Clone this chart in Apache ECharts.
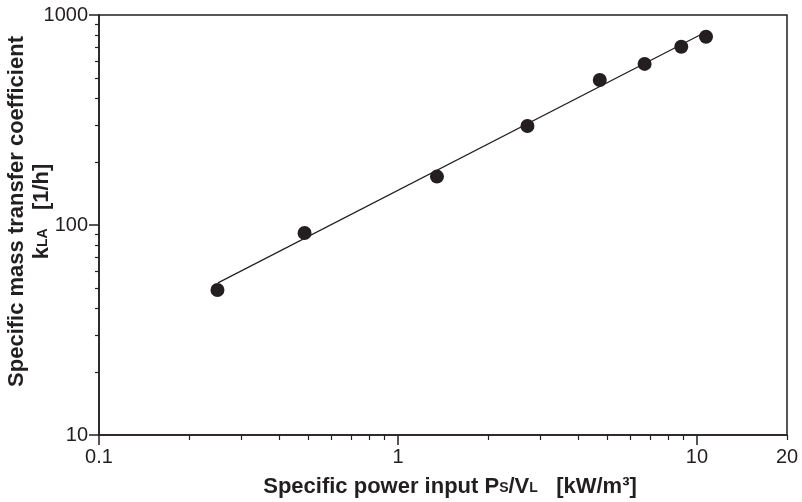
<!DOCTYPE html>
<html><head><meta charset="utf-8">
<script src="https://cdn.jsdelivr.net/npm/echarts@6/dist/echarts.min.js"></script>
<style>html,body{margin:0;padding:0;background:#fff}#c{width:802px;height:502px}</style>
</head><body><div id="c"></div>
<script>
const powerInput = [0.249, 0.487, 1.35, 2.71, 4.73, 6.68, 8.86, 10.72];
const kLa = [49, 91.6, 170, 296, 490, 585, 706, 788];
const fitX = [0.25, 10.7];
const fitY = [53, 830];
const xMajorTicks = [0.1, 1, 10];
const xMinorTicks = [0.2, 0.3, 0.4, 0.5, 0.6, 0.7, 0.8, 0.9, 2, 3, 4, 5, 6, 7, 8, 9, 20];
const xTickLabels = [0.1, 1, 10, 20];
const yMajorTicks = [10, 100, 1000];
const yMinorTicks = [20, 30, 40, 50, 60, 70, 80, 90, 200, 300, 400, 500, 600, 700, 800, 900];
const yTickLabels = [10, 100, 1000];

const INK = '#231f20';
const FONT = 'Liberation Sans, Arial, sans-serif';
const chart = echarts.init(document.getElementById('c'), null, {renderer: 'canvas'});

const labelStyle = {color: INK, fontFamily: FONT, fontSize: 20};
const titleRich = {
  b: {fontFamily: FONT, fontWeight: 'bold', fontSize: 22, color: INK, lineHeight: 25},
  s: {fontFamily: FONT, fontWeight: 'bold', fontSize: 14, color: INK, verticalAlign: 'bottom', lineHeight: 20, padding: [0, 0, 4, 0]}
};
function fmt(v) { return String(Math.round(v * 10) / 10); }

const option = {
  animation: false,
  backgroundColor: '#fff',
  grid: {left: 99, right: 15, top: 15, bottom: 67, containLabel: false, outerBoundsMode: 'none',
         show: true, borderColor: INK, borderWidth: 1.5, backgroundColor: 'transparent'},
  xAxis: [
    {type: 'log', logBase: 10, min: 0.1, max: 20, position: 'bottom',
     name: '{b|Specific power input P}{s|S}{b|/V}{s|L}{b|   [kW/m³]}',
     nameLocation: 'middle', nameGap: 39, nameMoveOverlap: false,
     nameTextStyle: {rich: titleRich, fontFamily: FONT, fontWeight: 'bold', fontSize: 22, lineHeight: 25, color: INK, padding: [0, 0, 0, 14]},
     axisLine: {show: true, lineStyle: {color: INK, width: 1.5}},
     axisTick: {show: true, inside: false, length: 10, lineStyle: {color: INK, width: 1.5}, customValues: xMajorTicks},
     axisLabel: {show: true, margin: 12, ...labelStyle, customValues: xTickLabels, formatter: fmt},
     splitLine: {show: false}, minorTick: {show: false}},
    {type: 'log', logBase: 10, min: 0.1, max: 20, position: 'bottom',
     axisLine: {show: false},
     axisTick: {show: true, inside: false, length: 5, lineStyle: {color: INK, width: 1.2}, customValues: xMinorTicks},
     axisLabel: {show: false}, splitLine: {show: false}}
  ],
  yAxis: [
    {type: 'log', logBase: 10, min: 10, max: 1000, position: 'left',
     name: 'Specific mass transfer coefficient\n{b|k}{s|LA}{b|   [1/h]}',
     nameLocation: 'middle', nameGap: 45, nameRotate: 90, nameMoveOverlap: false,
     nameTextStyle: {rich: titleRich, fontFamily: FONT, fontWeight: 'bold', fontSize: 22, color: INK, lineHeight: 25, padding: [0, 0, 0, 27]},
     axisLine: {show: true, lineStyle: {color: INK, width: 1.5}},
     axisTick: {show: true, inside: false, length: 10, lineStyle: {color: INK, width: 1.5}, customValues: yMajorTicks},
     axisLabel: {show: true, margin: 11, ...labelStyle, customValues: yTickLabels, formatter: fmt},
     splitLine: {show: false}, minorTick: {show: false}},
    {type: 'log', logBase: 10, min: 10, max: 1000, position: 'left',
     axisLine: {show: false},
     axisTick: {show: true, inside: false, length: 4, lineStyle: {color: INK, width: 1.2}, customValues: yMinorTicks},
     axisLabel: {show: false}, splitLine: {show: false}}
  ],
  series: [
    {type: 'line', xAxisIndex: 0, yAxisIndex: 0, data: fitX.map((x, i) => [x, fitY[i]]),
     showSymbol: false, symbol: 'none', lineStyle: {color: INK, width: 1.2}, z: 2, silent: true},
    {type: 'scatter', xAxisIndex: 0, yAxisIndex: 0, data: powerInput.map((x, i) => [x, kLa[i]]),
     symbol: 'circle', symbolSize: 14, itemStyle: {color: INK, opacity: 1}, z: 3}
  ]
};
chart.setOption(option);
</script></body></html>
